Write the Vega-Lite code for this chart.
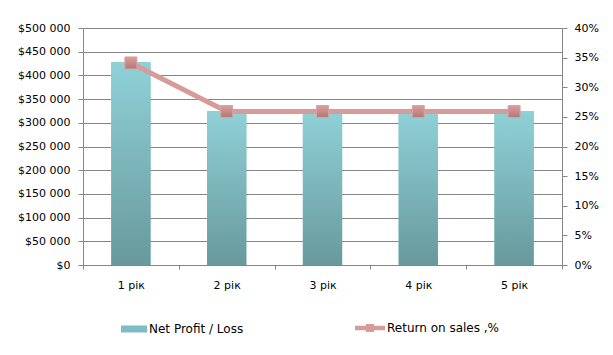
{
  "$schema": "https://vega.github.io/schema/vega-lite/v6.json",
  "width": 479,
  "height": 237,
  "autosize": {"type": "none"},
  "padding": {"left": 83, "top": 28, "right": 51, "bottom": 90},
  "background": "white",
  "config": {
    "view": {"stroke": null},
    "font": "DejaVu Sans",
    "locale": {"number": {"decimal": ",", "thousands": " ", "grouping": [3], "currency": ["$", ""]}},
    "axis": {"labelFont": "DejaVu Sans", "labelFontSize": 11, "labelColor": "#000000", "domainColor": "#868686", "tickColor": "#868686", "gridColor": "#868686", "tickSize": 5}
  },
  "data": {"values": [
    {"year": "1 рік", "profit": 428000, "ros": 0.341},
    {"year": "2 рік", "profit": 325000, "ros": 0.259},
    {"year": "3 рік", "profit": 325000, "ros": 0.259},
    {"year": "4 рік", "profit": 325000, "ros": 0.259},
    {"year": "5 рік", "profit": 325000, "ros": 0.259}
  ]},
  "encoding": {
    "x": {"field": "year", "type": "nominal", "sort": null, "title": null,
      "scale": {"paddingInner": 0, "paddingOuter": 0},
      "axis": {"labelAngle": 0, "tickBand": "extent", "tickSize": 4, "labelPadding": 10, "labelFontSize": 11}}
  },
  "layer": [
    {
      "encoding": {
        "y": {"field": "profit", "type": "quantitative", "title": null,
          "scale": {"domain": [0, 500000]},
          "axis": {"values": [0, 50000, 100000, 150000, 200000, 250000, 300000, 350000, 400000, 450000, 500000], "format": "$,.0f", "grid": true, "labelPadding": 8}}
      },
      "layer": [
        {
          "mark": {"type": "bar", "width": {"band": 0.41}},
          "encoding": {
            "fill": {"datum": "Net Profit / Loss", "type": "nominal",
              "scale": {"range": ["#7fbdc4"]},
              "legend": {"orient": "none", "legendX": 38, "legendY": 288, "title": null, "symbolType": "M-1,-0.27H1V0.27H-1Z", "symbolSize": 676, "symbolStrokeWidth": 0, "labelFontSize": 12, "labelFont": "DejaVu Sans", "labelOffset": 2}}
          }
        },
        {
          "mark": {"type": "bar", "width": {"band": 0.41},
            "fill": {"gradient": "linear", "x1": 0, "y1": 0, "x2": 0, "y2": 1, "stops": [{"offset": 0, "color": "#8fd1d8"}, {"offset": 1, "color": "#68999c"}]}}
        }
      ]
    },
    {
      "encoding": {
        "y": {"field": "ros", "type": "quantitative", "title": null,
          "scale": {"domain": [0, 0.4]},
          "axis": {"orient": "right", "values": [0, 0.05, 0.1, 0.15, 0.2, 0.25, 0.3, 0.35, 0.4], "format": ".0%", "grid": false, "labelPadding": 7}}
      },
      "layer": [
        {
          "mark": {"type": "line", "strokeWidth": 5},
          "encoding": {
            "stroke": {"datum": "Return on sales ,%", "type": "nominal",
              "scale": {"range": ["#d59c9a"]},
              "legend": {"orient": "none", "legendX": 272, "legendY": 285, "title": null, "symbolType": "M-1,-0.15H1V0.15H-1Z M-0.27,-0.27H0.27V0.27H-0.27Z", "symbolSize": 900, "symbolFillColor": "#d59c9a", "symbolStrokeWidth": 0, "labelFontSize": 12, "labelFont": "DejaVu Sans", "labelOffset": 2}}
          }
        },
        {
          "mark": {"type": "point", "shape": "square", "size": 144, "filled": true, "opacity": 1, "strokeWidth": 1, "stroke": "#d9a3a1",
            "fill": {"gradient": "linear", "x1": 0, "y1": 0, "x2": 0, "y2": 1, "stops": [{"offset": 0, "color": "#d99f9d"}, {"offset": 1, "color": "#b47676"}]}}
        }
      ]
    }
  ],
  "resolve": {"scale": {"y": "independent", "fill": "independent", "stroke": "independent"}, "legend": {"fill": "independent", "stroke": "independent"}}
}
